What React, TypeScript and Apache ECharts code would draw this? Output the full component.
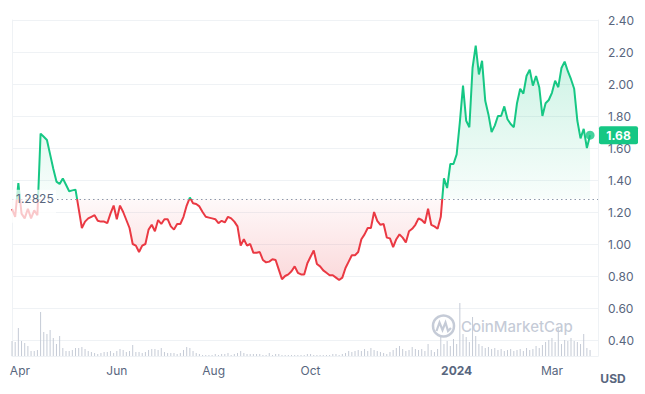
import { useEffect, useRef } from 'react';
import * as echarts from 'echarts';

// ---- data ----
const START_DATE = [2023, 2, 27]; // first sample (local time)
const STEP_DAYS = 2;
const AXIS_PAD_DAYS = 5;
const BASE_PRICE = 1.2825;
const Y_MIN = 0.4;
const Y_MAX = 2.4;
const Y_STEP = 0.2;
const X_LABEL_DATES = [
  [2023, 3, 1],
  [2023, 5, 1],
  [2023, 7, 1],
  [2023, 9, 1],
  [2024, 0, 1],
  [2024, 2, 1],
];
const MONTHS = ['Jan', 'Feb', 'Mar', 'Apr', 'May', 'Jun', 'Jul', 'Aug', 'Sep', 'Oct', 'Nov', 'Dec'];

const prices = [
  1.22, 1.17, 1.38, 1.19, 1.16, 1.22, 1.16, 1.21, 1.18, 1.69,
  1.67, 1.65, 1.56, 1.47, 1.39, 1.375, 1.41, 1.37, 1.33, 1.335,
  1.34, 1.22, 1.10, 1.14, 1.16, 1.17, 1.18, 1.145, 1.14, 1.14,
  1.13, 1.19, 1.24, 1.155, 1.24, 1.20, 1.15, 1.10, 1.00, 0.99,
  0.95, 0.99, 1.00, 1.09, 1.12, 1.08, 1.15, 1.125, 1.155, 1.155,
  1.11, 1.09, 1.125, 1.125, 1.17, 1.24, 1.29, 1.255, 1.25, 1.235,
  1.20, 1.17, 1.165, 1.16, 1.155, 1.13, 1.145, 1.135, 1.17, 1.16,
  1.14, 1.11, 0.99, 1.03, 0.99, 1.00, 0.945, 0.945, 0.95, 0.90,
  0.885, 0.89, 0.905, 0.90, 0.84, 0.78, 0.80, 0.81, 0.83, 0.86,
  0.82, 0.81, 0.81, 0.88, 0.92, 0.96, 0.875, 0.86, 0.835, 0.82,
  0.805, 0.805, 0.79, 0.775, 0.79, 0.85, 0.89, 0.93, 0.93, 0.95,
  1.03, 1.06, 1.10, 1.10, 1.20, 1.145, 1.12, 1.125, 1.04, 1.035,
  0.98, 1.03, 1.06, 1.04, 1.01, 1.08, 1.095, 1.12, 1.16, 1.15,
  1.13, 1.22, 1.12, 1.11, 1.095, 1.17, 1.41, 1.35, 1.50, 1.50,
  1.56, 1.76, 1.99, 1.77, 1.73, 2.10, 2.24, 2.06, 2.145, 1.895,
  1.81, 1.70, 1.74, 1.80, 1.80, 1.86, 1.78, 1.75, 1.73, 1.88,
  1.97, 1.94, 2.05, 2.09, 1.99, 2.05, 1.98, 1.80, 1.88, 1.90,
  1.945, 2.02, 1.98, 2.10, 2.14, 2.08, 2.03, 1.97, 1.77, 1.66,
  1.72, 1.60, 1.68,
];

const volumes = [
  15, 14, 28, 15, 13, 10, 5, 5, 6, 44,
  24, 22, 26, 18, 12, 20, 8, 5, 5, 6,
  8, 8, 9, 7, 5, 4, 3, 2, 3, 4,
  4, 5, 3, 5, 7, 6, 4, 5, 11, 4,
  4, 3, 4, 6, 7, 7, 6, 8, 4, 3,
  3, 3, 2, 3, 6, 9, 8, 5, 3, 2,
  1, 1, 1, 1, 2, 1, 2, 2, 3, 1,
  2, 3, 5, 3, 2, 2, 2, 2, 2, 1,
  1, 3, 1, 2, 2, 1, 1, 1, 1, 1,
  1, 1, 1, 2, 2, 1, 1, 1, 1, 1,
  1, 2, 2, 1, 2, 3, 5, 4, 5, 6,
  5, 7, 5, 8, 6, 5, 4, 3, 2, 4,
  6, 8, 10, 7, 5, 6, 9, 7, 6, 7,
  5, 12, 6, 4, 7, 19, 12, 15, 10, 17,
  12, 53, 22, 19, 14, 39, 20, 12, 10, 8,
  9, 7, 8, 6, 7, 5, 6, 7, 5, 6,
  7, 5, 8, 6, 7, 10, 8, 11, 14, 16,
  18, 14, 28, 12, 16, 15, 18, 15, 14, 12,
  22, 8, 6,
];

const GREEN = '#16c784';
const RED = '#ea3943';
const LABEL_GRAY = '#58667e';
const AXIS_GRAY = '#eff2f5';
const WATERMARK = 'rgba(140,152,175,0.5)';
const FONT = 'Inter, "Noto Sans", sans-serif';

function dayTs(y: number, m: number, d: number) {
  return new Date(y, m, d).getTime();
}

export default function App() {
  const ref = useRef<HTMLDivElement>(null);

  useEffect(() => {
    const chart = echarts.init(ref.current!, null, { renderer: 'svg' });
    const dates = prices.map((_, i) => dayTs(START_DATE[0], START_DATE[1], START_DATE[2] + i * STEP_DAYS));
    const xMin = dates[0];
    const last = prices.length - 1;
    const xMax = dayTs(START_DATE[0], START_DATE[1], START_DATE[2] + last * STEP_DAYS + AXIS_PAD_DAYS);
    const priceData = prices.map((v, i) => [dates[i], v]);
    const volData = volumes.map((v, i) => [dates[i], v]);

    const lineAxis = { show: true, lineStyle: { color: AXIS_GRAY, width: 1 } };

    chart.setOption({
      animation: false,
      textStyle: { fontFamily: FONT },
      grid: [
        { left: 12, right: 47, top: 20, bottom: 54 },
        { left: 12, right: 47, bottom: 38, height: 60 },
      ],
      xAxis: [
        { type: 'value', gridIndex: 0, min: xMin, max: xMax, show: false },
        {
          type: 'value',
          gridIndex: 1,
          min: xMin,
          max: xMax,
          axisLine: lineAxis,
          axisTick: { show: false },
          axisLabel: { show: false },
          splitLine: { show: false },
        },
      ],
      yAxis: [
        {
          type: 'value',
          gridIndex: 0,
          position: 'right',
          min: Y_MIN,
          max: Y_MAX,
          interval: Y_STEP,
          axisLine: lineAxis,
          axisTick: { show: false },
          splitLine: { show: true, lineStyle: { color: AXIS_GRAY, width: 1 } },
          axisLabel: {
            color: LABEL_GRAY,
            fontSize: 12,
            fontFamily: FONT,
            margin: 10,
            formatter: (v: number) => v.toFixed(2),
          },
        },
        {
          type: 'value',
          gridIndex: 1,
          position: 'right',
          min: 0,
          max: 60,
          axisLine: lineAxis,
          axisTick: { show: false },
          axisLabel: { show: false },
          splitLine: { show: false },
        },
        {
          type: 'value',
          gridIndex: 0,
          position: 'left',
          min: Y_MIN,
          max: Y_MAX,
          axisLine: lineAxis,
          axisTick: { show: false },
          axisLabel: { show: false },
          splitLine: { show: false },
        },
        {
          type: 'value',
          gridIndex: 1,
          position: 'left',
          min: 0,
          max: 60,
          axisLine: lineAxis,
          axisTick: { show: false },
          axisLabel: { show: false },
          splitLine: { show: false },
        },
      ],
      visualMap: {
        show: false,
        type: 'piecewise',
        seriesIndex: 0,
        dimension: 1,
        pieces: [
          { lte: BASE_PRICE, color: RED },
          { gt: BASE_PRICE, lte: 100, color: GREEN },
        ],
        outOfRange: { color: GREEN },
      },
      series: [
        {
          id: 'price',
          type: 'line',
          xAxisIndex: 0,
          yAxisIndex: 0,
          data: priceData,
          showSymbol: false,
          z: 3,
          lineStyle: { width: 2 },
          areaStyle: { origin: BASE_PRICE, color: 'rgba(0,0,0,0)', opacity: 1 },
          markLine: {
            silent: true,
            symbol: ['none', 'none'],
            label: { show: false },
            lineStyle: { color: '#8e99ab', type: [1.5, 3], width: 1 },
            data: [{ yAxis: BASE_PRICE }],
          },
        },
        {
          type: 'bar',
          xAxisIndex: 1,
          yAxisIndex: 1,
          data: volData,
          barWidth: 1,
          itemStyle: { color: '#c5cbd6' },
          z: 1,
        },
        {
          type: 'scatter',
          xAxisIndex: 0,
          yAxisIndex: 0,
          data: [priceData[last]],
          symbol: 'circle',
          symbolSize: 9,
          itemStyle: { color: GREEN },
          z: 5,
        },
      ],
    });

    const yTop = chart.convertToPixel({ yAxisIndex: 0 }, Y_MAX) as number;
    const yBot = chart.convertToPixel({ yAxisIndex: 0 }, Y_MIN) as number;
    const frac = (v: number) => (Y_MAX - v) / (Y_MAX - Y_MIN);
    const fb = frac(BASE_PRICE);
    const baseY = chart.convertToPixel({ yAxisIndex: 0 }, BASE_PRICE) as number;
    const lastPx = chart.convertToPixel({ gridIndex: 0 }, priceData[last]) as number[];
    const axisBottom = chart.convertToPixel({ yAxisIndex: 1 }, 0) as number;

    const xLabels = X_LABEL_DATES.map((d) => {
      const ts = dayTs(d[0], d[1], d[2]);
      const px = chart.convertToPixel({ xAxisIndex: 0 }, ts) as number;
      const isYear = d[1] === 0;
      return {
        type: 'text',
        z: 10,
        x: px,
        y: axisBottom + 14,
        silent: true,
        style: {
          text: isYear ? String(d[0]) : MONTHS[d[1]],
          fill: LABEL_GRAY,
          font: (isYear ? 'bold ' : '') + '12px ' + FONT,
          align: 'center',
          verticalAlign: 'middle',
        },
      };
    });

    chart.setOption({
      series: [
        {
          id: 'price',
          areaStyle: {
            origin: BASE_PRICE,
            opacity: 1,
            color: {
              type: 'linear',
              global: true,
              x: 0,
              y: yTop,
              x2: 0,
              y2: yBot,
              colorStops: [
                { offset: 0, color: 'rgba(22,199,132,0.25)' },
                { offset: frac(2.3), color: 'rgba(22,199,132,0.24)' },
                { offset: fb, color: 'rgba(22,199,132,0.03)' },
                { offset: fb, color: 'rgba(234,57,67,0.03)' },
                { offset: frac(0.75), color: 'rgba(234,57,67,0.2)' },
                { offset: 1, color: 'rgba(234,57,67,0.2)' },
              ],
            },
          },
        },
      ],
      graphic: [
        ...xLabels,
        {
          type: 'rect',
          z: 50,
          shape: { x: 12, y: baseY - 9, width: 44, height: 33 },
          style: { fill: 'rgba(255,255,255,0.72)' },
          silent: true,
        },
        {
          type: 'text',
          z: 51,
          x: 16,
          y: baseY,
          style: {
            text: BASE_PRICE.toString(),
            fill: LABEL_GRAY,
            font: '12px ' + FONT,
            verticalAlign: 'middle',
            align: 'left',
          },
          silent: true,
        },
        {
          type: 'rect',
          z: 52,
          shape: { x: 599, y: lastPx[1] - 9, width: 39, height: 18, r: 2 },
          style: { fill: GREEN },
          silent: true,
        },
        {
          type: 'text',
          z: 53,
          x: 618.5,
          y: lastPx[1],
          style: {
            text: prices[last].toFixed(2),
            fill: '#ffffff',
            font: 'bold 12px ' + FONT,
            align: 'center',
            verticalAlign: 'middle',
          },
          silent: true,
        },
        {
          type: 'text',
          z: 10,
          x: 613,
          y: 378,
          style: {
            text: 'USD',
            fill: LABEL_GRAY,
            font: 'bold 12px ' + FONT,
            align: 'center',
            verticalAlign: 'middle',
          },
          silent: true,
        },
        {
          type: 'group',
          z: 0,
          silent: true,
          children: [
            {
              type: 'circle',
              shape: { cx: 443.5, cy: 326, r: 10.5 },
              style: { fill: 'none', stroke: WATERMARK, lineWidth: 2.5 },
            },
            {
              type: 'polyline',
              shape: {
                points: [
                  [436.5, 331],
                  [439.5, 322.5],
                  [442.5, 330],
                  [445.5, 322.5],
                  [448, 331],
                  [451, 328],
                ],
              },
              style: { fill: 'none', stroke: WATERMARK, lineWidth: 2.2 },
            },
            {
              type: 'text',
              x: 461,
              y: 326,
              style: {
                text: 'CoinMarketCap',
                fill: WATERMARK,
                font: '500 15px ' + FONT,
                verticalAlign: 'middle',
                align: 'left',
              },
            },
          ],
        },
      ],
    });

    return () => chart.dispose();
  }, []);

  return (
    <div
      ref={ref}
      style={{ position: 'fixed', left: 0, top: 0, width: 645, height: 394, background: '#fff' }}
    />
  );
}
